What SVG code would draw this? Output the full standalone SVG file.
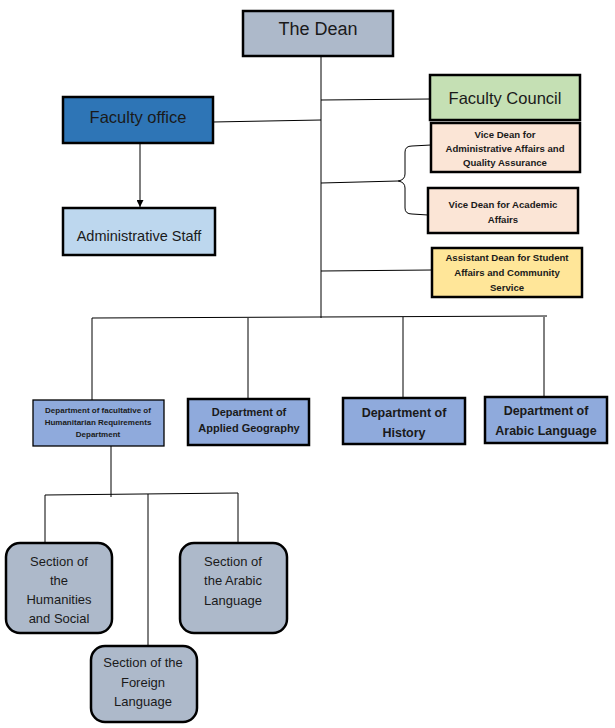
<svg xmlns="http://www.w3.org/2000/svg" width="615" height="728" viewBox="0 0 615 728">
<defs>
<style>
.box{stroke:#000;stroke-width:2.5}
.thin{stroke:#000;stroke-width:1.3}
.ln{fill:none;stroke:#000;stroke-width:1}
.t{font-family:"Liberation Sans",Arial,sans-serif;fill:#1a1a1a;text-anchor:middle}
.b{font-weight:bold}
</style>
<marker id="arr" viewBox="0 0 10 10" refX="10" refY="5" markerWidth="7" markerHeight="7" orient="auto">
<path d="M0,0 L10,5 L0,10 z" fill="#000"/>
</marker>
</defs>
<rect width="615" height="728" fill="#fff"/>
<g id="connectors">
<line class="ln" x1="321" y1="56" x2="321" y2="318"/>
<line class="ln" x1="321" y1="100" x2="430" y2="99"/>
<line class="ln" x1="213" y1="122" x2="321" y2="120"/>
<line class="ln" x1="140" y1="144" x2="140" y2="207" marker-end="url(#arr)"/>
<path class="ln" d="M321,183 L398,181 Q405,180 405,174 L405,152 Q405,146 412,146 L431,145"/>
<path class="ln" d="M398,181 Q405,182 405,188 L405,208 Q405,214 412,214 L428,215"/>
<line class="ln" x1="321" y1="271" x2="432" y2="270"/>
<line class="ln" x1="92" y1="318" x2="547" y2="316"/>
<line class="ln" x1="92" y1="318" x2="92" y2="400"/>
<line class="ln" x1="248" y1="318" x2="248" y2="399"/>
<line class="ln" x1="403" y1="317" x2="403" y2="398"/>
<line class="ln" x1="544" y1="317" x2="544" y2="397"/>
<line class="ln" x1="111" y1="446" x2="111" y2="497"/>
<line class="ln" x1="45" y1="495" x2="238" y2="493"/>
<line class="ln" x1="45" y1="495" x2="45" y2="543"/>
<line class="ln" x1="148" y1="494" x2="148" y2="646"/>
<line class="ln" x1="238" y1="493" x2="238" y2="543"/>
</g>
<g id="dean">
<rect class="box" x="243" y="11" width="150" height="45" fill="#adb9ca" stroke-width="3"/>
<text class="t" x="318" y="35" font-size="18">The Dean</text>
</g>
<g id="faculty-council">
<rect class="box" x="430" y="75" width="150" height="45" fill="#c5e0b4"/>
<text class="t" x="505" y="104" font-size="16.5">Faculty Council</text>
</g>
<g id="faculty-office">
<rect class="box" x="63" y="97" width="150" height="46" fill="#2e75b6"/>
<text class="t" x="138" y="123" font-size="16.5">Faculty office</text>
</g>
<g id="administrative-staff">
<rect class="box" x="63" y="208" width="152" height="47" fill="#bdd7ee"/>
<text class="t" x="139" y="241" font-size="14.5">Administrative Staff</text>
</g>
<g id="vice-dean-admin">
<rect class="box" x="431" y="123" width="149" height="49" fill="#fbe5d6"/>
<text class="t b" font-size="9.6"><tspan x="505" y="138">Vice Dean for</tspan><tspan x="505" y="152">Administrative Affairs and</tspan><tspan x="505" y="166">Quality Assurance</tspan></text>
</g>
<g id="vice-dean-academic">
<rect class="box" x="428" y="188" width="150" height="45" fill="#fbe5d6"/>
<text class="t b" font-size="9.6"><tspan x="503" y="208">Vice Dean for Academic</tspan><tspan x="503" y="223">Affairs</tspan></text>
</g>
<g id="assistant-dean">
<rect class="box" x="432" y="248" width="150" height="49" fill="#ffe699"/>
<text class="t b" font-size="9.6"><tspan x="507" y="261">Assistant Dean for Student</tspan><tspan x="507" y="276">Affairs and Community</tspan><tspan x="507" y="291">Service</tspan></text>
</g>
<g id="dept-facultative">
<rect class="thin" x="33" y="400" width="131" height="46" fill="#8faadc"/>
<text class="t b" font-size="8"><tspan x="98" y="413">Department of facultative of</tspan><tspan x="98" y="425">Humanitarian Requirements</tspan><tspan x="98" y="437">Department</tspan></text>
</g>
<g id="dept-geography">
<rect class="box" x="188" y="399" width="121" height="46" fill="#8faadc"/>
<text class="t b" font-size="11"><tspan x="249" y="416">Department of</tspan><tspan x="249" y="432">Applied Geography</tspan></text>
</g>
<g id="dept-history">
<rect class="box" x="343" y="398" width="122" height="46" fill="#8faadc"/>
<text class="t b" font-size="12.5"><tspan x="404" y="417">Department of</tspan><tspan x="404" y="437">History</tspan></text>
</g>
<g id="dept-arabic">
<rect class="box" x="485" y="397" width="122" height="46" fill="#8faadc"/>
<text class="t b" font-size="12.5"><tspan x="546" y="415">Department of</tspan><tspan x="546" y="435">Arabic Language</tspan></text>
</g>
<g id="section-humanities">
<rect class="box" x="6" y="543" width="106" height="90" rx="14" fill="#adb9ca"/>
<text class="t" font-size="13"><tspan x="59" y="566">Section of</tspan><tspan x="59" y="585">the</tspan><tspan x="59" y="604">Humanities</tspan><tspan x="59" y="623">and Social</tspan></text>
</g>
<g id="section-arabic">
<rect class="box" x="180" y="543" width="107" height="90" rx="14" fill="#adb9ca"/>
<text class="t" font-size="13"><tspan x="233" y="566">Section of</tspan><tspan x="233" y="585">the Arabic</tspan><tspan x="233" y="605">Language</tspan></text>
</g>
<g id="section-foreign">
<rect class="box" x="91" y="646" width="106" height="76" rx="14" fill="#adb9ca"/>
<text class="t" font-size="13"><tspan x="143" y="667">Section of the</tspan><tspan x="143" y="687">Foreign</tspan><tspan x="143" y="706">Language</tspan></text>
</g>
</svg>
